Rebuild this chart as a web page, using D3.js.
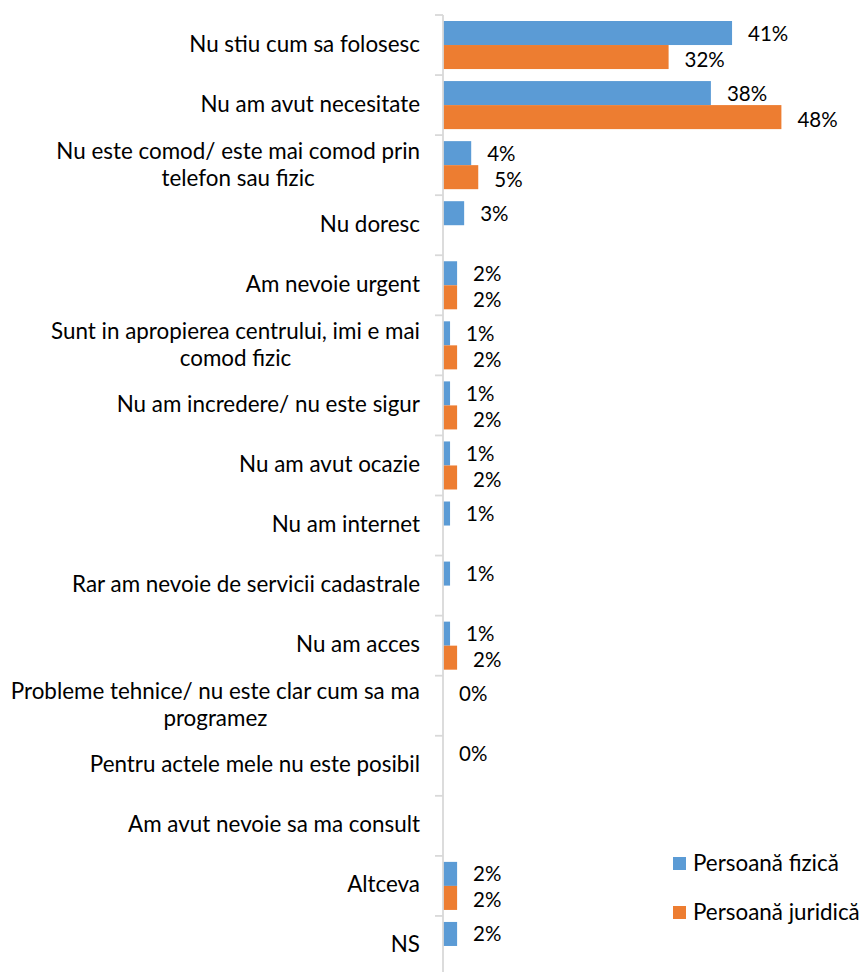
<!DOCTYPE html>
<html>
<head>
<meta charset="utf-8">
<script src="https://cdn.jsdelivr.net/npm/d3@7/dist/d3.min.js"></script>
<style>
  html, body { margin: 0; padding: 0; background: #fff; }
  svg { display: block; }
  text { font-family: Lato, "Open Sans", sans-serif; fill: #000; }
</style>
</head>
<body>
<svg id="chart" width="860" height="972"></svg>
<script>
// Reasons for not using the online service, by type of applicant (%)
const categories = [
  "Nu stiu cum sa folosesc",
  "Nu am avut necesitate",
  "Nu este comod/ este mai comod prin\ntelefon sau fizic",
  "Nu doresc",
  "Am nevoie urgent",
  "Sunt in apropierea centrului, imi e mai\ncomod fizic",
  "Nu am incredere/ nu este sigur",
  "Nu am avut ocazie",
  "Nu am internet",
  "Rar am nevoie de servicii cadastrale",
  "Nu am acces",
  "Probleme tehnice/ nu este clar cum sa ma\nprogramez",
  "Pentru actele mele nu este posibil",
  "Am avut nevoie sa ma consult",
  "Altceva",
  "NS"
];
const seriesNames = ["Persoană fizică", "Persoană juridică"];
const fizica   = [41, 38, 4, 3, 2, 1, 1, 1, 1, 1, 1, 0, 0, null, 2, 2];
const juridica = [32, 48, 5, null, 2, 2, 2, 2, null, null, 2, null, null, null, 2, null];
const seriesColors = ["#5B9BD5", "#ED7D31"];

const FONT = 22.4;
const VALUE_FONT = 20.5;
const svg = d3.select("#chart");

const x = d3.scaleLinear().domain([0, 50]).range([443, 443 + 352.5]);
const y = d3.scaleBand().domain(categories).range([15, 976])
  .paddingInner(0.2).paddingOuter(0.1);
const ySub = d3.scaleBand().domain(seriesNames).range([0, y.bandwidth()]);
const color = d3.scaleOrdinal().domain(seriesNames).range(seriesColors);

const rows = categories.map((c, i) => ({
  cat: c,
  values: [
    { s: seriesNames[0], v: fizica[i] },
    { s: seriesNames[1], v: juridica[i] }
  ].filter(d => d.v !== null)
}));

// bars
const groups = svg.append("g").selectAll("g").data(rows).join("g")
  .attr("transform", d => `translate(0,${y(d.cat)})`);

groups.selectAll("rect").data(d => d.values).join("rect")
  .attr("x", x(0))
  .attr("y", d => ySub(d.s))
  .attr("width", d => x(d.v) - x(0))
  .attr("height", ySub.bandwidth())
  .attr("fill", d => color(d.s));

// value labels (the two labels of a pair are nudged slightly apart)
groups.selectAll("text.val").data(d => d.values).join("text")
  .attr("class", "val")
  .attr("x", d => x(d.v) + 16)
  .attr("y", d => ySub(d.s) + ySub.bandwidth() / 2 + (d.s === seriesNames[0] ? -0.5 : 1.5))
  .attr("dominant-baseline", "central")
  .style("font-size", VALUE_FONT + "px")
  .text(d => d.v + "%");

// category axis: line and boundary ticks
const step = y.step();
const axisG = svg.append("g");
const bounds = categories.map(c => y(c) - y.paddingInner() * step / 2);
axisG.selectAll("line.tick").data(bounds).join("line")
  .attr("x1", 435).attr("x2", 443)
  .attr("y1", d => d).attr("y2", d => d)
  .attr("stroke", "#D9D9D9").attr("stroke-width", 1.8);
axisG.append("line")
  .attr("x1", 443).attr("x2", 443)
  .attr("y1", bounds[0]).attr("y2", 976)
  .attr("stroke", "#D9D9D9").attr("stroke-width", 1.8);

// category labels: right-aligned block, wrapped lines centered within it
const LABEL_RIGHT = 420;
const LINE_H = 27;
categories.forEach(c => {
  const lines = c.split("\n");
  const cy = y(c) + y.bandwidth() / 2 - 2;
  const t = svg.append("text").style("font-size", FONT + "px")
    .attr("dominant-baseline", "central");
  if (lines.length === 1) {
    t.attr("x", LABEL_RIGHT).attr("y", cy).attr("text-anchor", "end").text(c);
  } else {
    const spans = lines.map((ln, k) => t.append("tspan")
      .attr("y", cy + (k - (lines.length - 1) / 2) * LINE_H).text(ln));
    const w = d3.max(spans, s => s.node().getComputedTextLength());
    t.attr("text-anchor", "middle");
    spans.forEach(s => s.attr("x", LABEL_RIGHT - w / 2));
  }
});

// legend
const legend = svg.append("g").selectAll("g").data(seriesNames).join("g")
  .attr("transform", (d, i) => `translate(673,${857 + i * 49})`);
legend.append("rect").attr("width", 13).attr("height", 13)
  .attr("fill", d => color(d));
legend.append("text").attr("x", 20).attr("y", 5.5)
  .attr("dominant-baseline", "central")
  .style("font-size", FONT + "px")
  .text(d => d);
</script>
</body>
</html>
